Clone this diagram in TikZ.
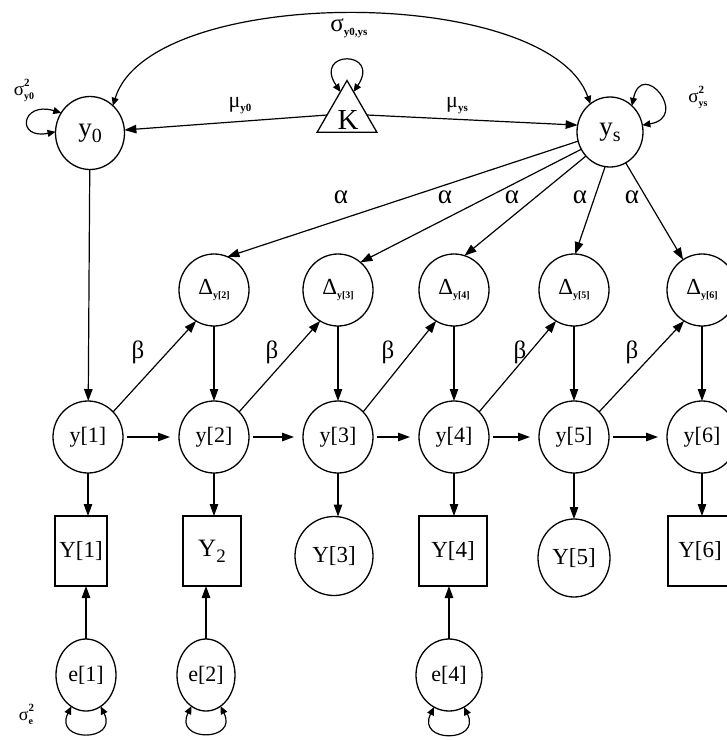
\documentclass[tikz,border=0pt]{standalone}
\usepackage{fontspec}
\setmainfont{Liberation Serif}
\usetikzlibrary{shapes.geometric,arrows.meta,calc}

\newcommand{\fsz}[1]{\fontsize{#1}{#1}\selectfont}
% small bold lowered index
\newcommand{\lowidx}[2][10]{\raisebox{-4pt}{\fsz{#1}\bfseries #2}}
% variance label: sigma with a superscript 2 stacked over a small index
\newcommand{\varlbl}[2][19]{{\fsz{#1}σ}\makebox[0pt][l]{\raisebox{9pt}{\fsz{11}\bfseries 2}}\raisebox{-4pt}{\fsz{10}\bfseries #2}}

\begin{document}
\begin{tikzpicture}[x=1pt,y=-1pt,
  every node/.style={inner sep=0pt, outer sep=0pt},
  lat/.style={draw, ellipse, line width=1.3pt, minimum width=70pt, minimum height=72pt},
  obs/.style={draw, rectangle, line width=1.3pt, minimum height=70pt},
  arr/.style={line width=1.2pt, -{Triangle[length=12pt,width=8.5pt]}},
  dbl/.style={line width=1.2pt, {Triangle[length=8pt,width=7pt]}-{Triangle[length=8pt,width=7pt]}},
  lbl/.style={font=\fsz{25}},
]
\useasboundingbox (0,0) rectangle (727,740);
\clip (0,0) rectangle (727,740);

% top level: intercept, constant, slope
\node[lat, minimum width=69pt, minimum height=73pt] (y0) at (90,133) {{\fsz{27}y}\raisebox{-6pt}{\fsz{20}0}};
\node[draw, regular polygon, regular polygon sides=3, minimum size=69pt, line width=1.3pt] (K) at (347,115) {};
\node (Klbl) at (348,120) {\fsz{29}K};
\node[lat, minimum width=66pt, minimum height=70pt] (ys) at (610,132) {{\fsz{27}y}\raisebox{-6pt}{\fsz{20}s}};

% latent change scores
\foreach \i/\x in {2/214,3/338,4/454,5/574,6/702}
  \node[lat] (D\i) at (\x,290) {{\fsz{23}Δ}\lowidx[10]{y[\i]}};

% latent true scores
\foreach \i/\x in {1/88,2/214,3/338,4/454,5/574,6/702}
  \node[lat] (y\i) at (\x,437) {\fsz{22}y[\i]};

% observed / missing scores
\node[obs, minimum width=52pt] (Y1) at (81,551) {\fsz{23}Y[1]};
\node[obs, minimum width=58pt] (Y2) at (212,551) {{\fsz{25}Y}\raisebox{-6pt}{\fsz{19}2}};
\node[lat, minimum width=78pt, minimum height=79pt] (Y3) at (334,556) {\fsz{23}Y[3]};
\node[obs, minimum width=68pt] (Y4) at (453,551) {\fsz{23}Y[4]};
\node[lat, minimum width=72pt, minimum height=78pt] (Y5) at (574,558) {\fsz{23}Y[5]};
\node[obs, minimum width=64pt] (Y6) at (700,551) {\fsz{23}Y[6]};

% unique errors
\node[lat, minimum width=60pt, minimum height=72pt] (e1) at (86,675) {\fsz{22}e[1]};
\node[lat, minimum width=58pt, minimum height=72pt] (e2) at (206,675) {\fsz{22}e[2]};
\node[lat, minimum width=66pt, minimum height=72pt] (e4) at (449,675) {\fsz{22}e[4]};

% means from the constant
\draw[arr] (K.west) -- (y0.5);
\draw[arr] (K.east) -- (ys.168);
\node (muy0) at (240,106) {{\fsz{22}μ}\lowidx[11]{y0}};
\node (muys) at (457,106) {{\fsz{22}μ}\lowidx[11]{ys}};

% covariance between intercept and slope
\draw[dbl] (y0.50) .. controls (150,-16) and (548,-16) .. (ys.125);
\node (cov) at (349,28) {{\fsz{25}σ}\lowidx[11]{y0,ys}};

% variances
\draw[dbl] (y0.145) .. controls +(-40,-12) and +(-40,8) .. (y0.178);
\node (vy0) at (24,90) {\varlbl{y0}};
\draw[dbl] (ys.50) .. controls +(10,-48) and +(48,-8) .. (ys.12);
\node (vys) at (698,97) {\varlbl{ys}};
\draw[dbl] ($(K.corner 1)!0.22!(K.corner 2)$) .. controls +(-28,-42) and +(28,-42) .. ($(K.corner 1)!0.22!(K.corner 3)$);

% slope loadings
\draw[arr] (ys.196) -- (D2.68);
\draw[arr] (ys.211) -- (D3.51);
\draw[arr] (ys.225) -- (D4.73);
\draw[arr] (ys.262) -- (D5.88);
\draw[arr] (ys.297) -- (D6.122);
\foreach \x in {341,445,512,580,632}
  \node[lbl, font=\fsz{27}] at (\x,197) {α};

% proportional change
\foreach \a/\b/\x in {1/2/138,2/3/272,3/4/388,4/5/520,5/6/632}{
  \draw[arr] (y\a.45) -- (D\b.240);
  \node[lbl] at (\x,352) {β};
}

% change scores into true scores
\draw[arr] (y0) -- (y1);
\foreach \i in {2,...,6}
  \draw[arr] (D\i) -- (y\i);

% autoregression with unit weight
\foreach \a/\b in {1/2,2/3,3/4,4/5,5/6}
  \draw[arr, shorten <=4pt, shorten >=9pt] (y\a) -- (y\b);

% true scores to observations
\foreach \i in {1,...,6}
  \draw[arr] (y\i.south) -- (y\i.south |- Y\i.north);

% errors to observations
\foreach \i in {1,2,4}{
  \draw[arr] (e\i.north) -- (e\i.north |- Y\i.south);
  \draw[dbl] (e\i.245) .. controls +(-18,36) and +(18,36) .. (e\i.295);
}
\node (ve) at (26,714) {\varlbl[18]{e}};
\end{tikzpicture}
\end{document}
